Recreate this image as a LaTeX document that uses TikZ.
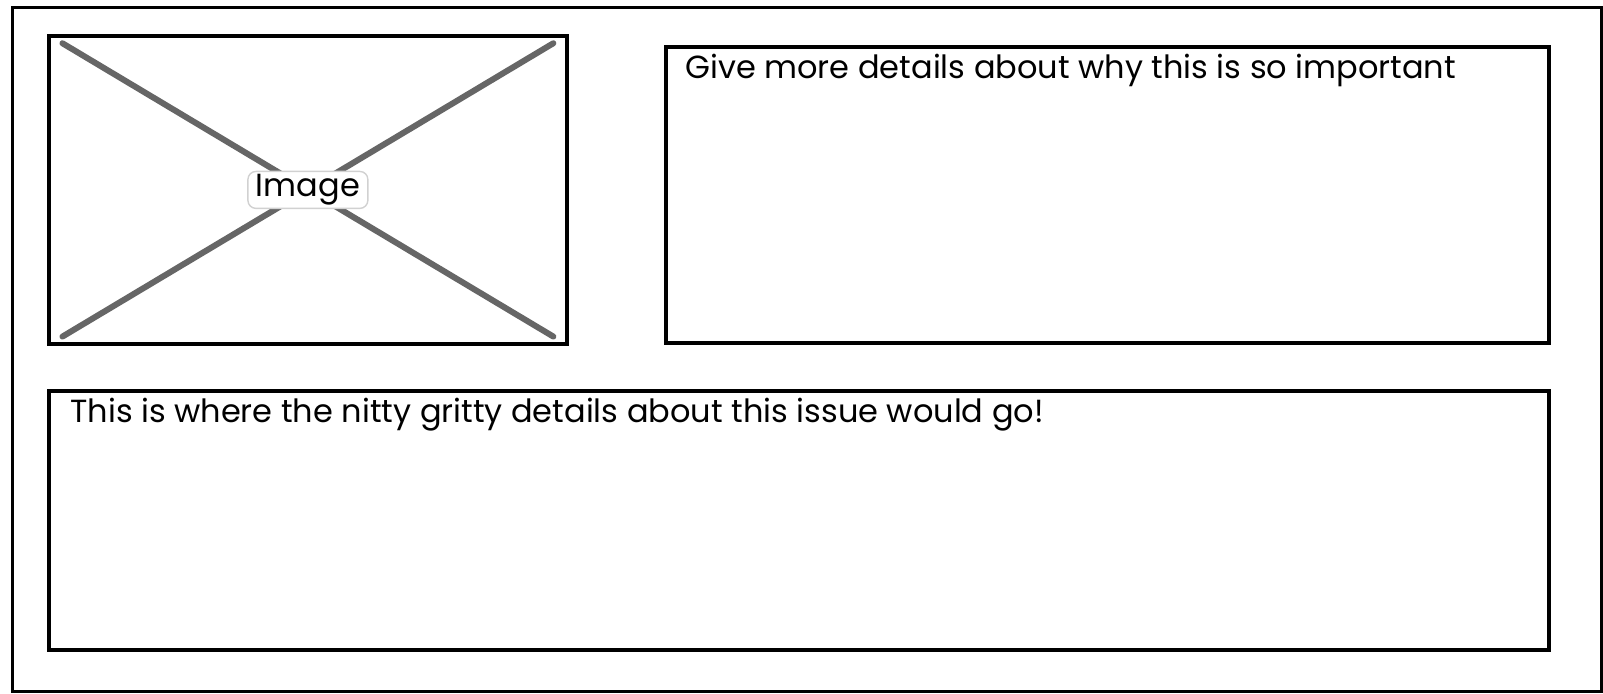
\documentclass[tikz,border=0pt]{standalone}
\usepackage{fontspec}
\setmainfont{Poppins}
\usetikzlibrary{positioning}

\begin{document}
\begin{tikzpicture}[
  x=0.5pt,y=-0.5pt,
  panel/.style={draw,line width=1.9pt,anchor=north west,inner sep=0pt},
  cross/.style={draw=black!60,line width=3pt,line cap=round,shorten <=9pt,shorten >=9pt},
  tag/.style={draw=black!18,fill=white,rounded corners=4pt,line width=0.7pt,
              inner xsep=4pt,inner ysep=1.5pt,font=\fontsize{16}{18}\selectfont},
  note/.style={anchor=base west,inner sep=0pt,font=\fontsize{16}{18}\selectfont}
]
\useasboundingbox (0,0) rectangle (1603,693);
\node[panel,line width=1.5pt,minimum width=794.5pt,minimum height=342pt] (frame) at (11,6) {};
\node[panel,minimum width=259pt,minimum height=154pt] (image) at (47,34) {};
\node[panel,minimum width=441.5pt,minimum height=148pt] (why) at (664,45) {};
\node[panel,minimum width=750pt,minimum height=129.5pt] (details) at (47,389) {};
% placeholder cross
\draw[cross] (image.north west) -- (image.south east);
\draw[cross] (image.south west) -- (image.north east);
\node[tag] (image-label) at (image.center) {Image};
% texts
\node[note] (why-text) at (685,78) {Give more details about why this is so important};
\node[note] (details-text) at (70,422) {This is where the nitty gritty details about this issue would go!};
\end{tikzpicture}
\end{document}
